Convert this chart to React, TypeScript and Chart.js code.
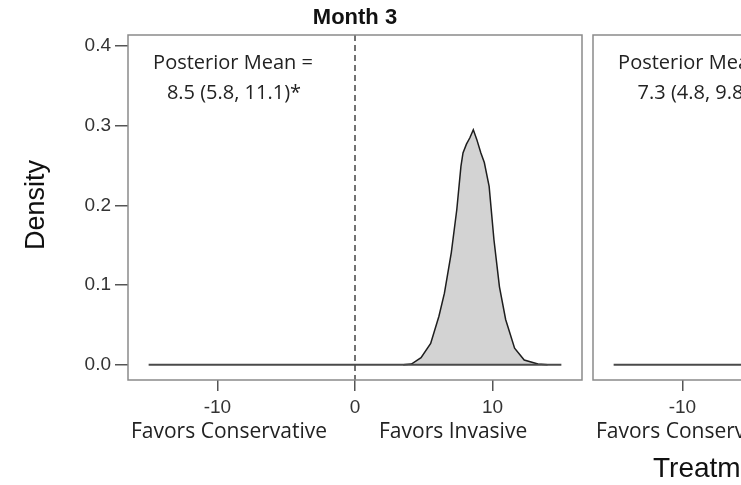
import React, { useEffect, useRef } from "react";
import { Chart, registerables } from "chart.js";

Chart.register(...registerables);

// ---------- data ----------
const xTickValues = [-10, 0, 10];
const yTickValues = [0, 0.1, 0.2, 0.3, 0.4];

const baselineX = [-15, 15];
const baselineY = [0, 0];

// Month 3 posterior density (left panel)
const month3X = [3.5, 4.1, 4.8, 5.5, 6.1, 6.5, 7.0, 7.4, 7.7, 7.85, 8.1, 8.35, 8.6, 8.85, 9.15, 9.4, 9.75, 10.1, 10.5, 10.95, 11.6, 12.3, 13.3, 14.0];
const month3Y = [0, 0.001, 0.009, 0.027, 0.061, 0.09, 0.141, 0.195, 0.249, 0.266, 0.277, 0.285, 0.295, 0.283, 0.266, 0.254, 0.224, 0.157, 0.098, 0.057, 0.021, 0.006, 0.001, 0];

// second panel posterior density (mostly cut off)
const panel2X = [2.0, 3.0, 4.0, 5.0, 6.0, 6.8, 7.3, 7.8, 8.6, 9.6, 10.6, 11.6, 12.6];
const panel2Y = [0, 0.003, 0.02, 0.08, 0.19, 0.29, 0.32, 0.29, 0.2, 0.09, 0.025, 0.004, 0];

const panelTitles = ["Month 3", ""];
const meanHeader = "Posterior Mean =";
const meanLabels = ["8.5 (5.8, 11.1)*", "7.3 (4.8, 9.8)*"];
const sideLabels = ["Favors Conservative", "Favors Invasive"];
const yAxisTitle = "Density";
const xAxisTitle = "Treatment Effect";

const X_MIN = -16.5;
const X_MAX = 16.5;
const Y_MIN = -0.019;
const Y_MAX = 0.414;

const TICK_FONT = { family: "'Liberation Sans', Arial, sans-serif", size: 19 };
const LABEL_FAMILY = "'Open Sans', Lato, sans-serif";

function pts(xs: number[], ys: number[]) {
  return xs.map((x, i) => ({ x, y: ys[i] }));
}

type PanelOpts = {
  xs: number[];
  ys: number[];
  showY: boolean;
  title: string;
  mean: string;
  drawYTitle: boolean;
  drawXTitle: boolean;
  xTitleOffset: number;
};

function makePanel(canvas: HTMLCanvasElement, o: PanelOpts) {
  const decor = {
    id: "decor",
    beforeDatasetsDraw(chart: any) {
      const { ctx, chartArea: a, scales } = chart;
      const x0 = scales.x.getPixelForValue(0);
      ctx.save();
      ctx.strokeStyle = "#444";
      ctx.lineWidth = 1.5;
      ctx.setLineDash([6, 4]);
      ctx.beginPath();
      ctx.moveTo(x0, a.top);
      ctx.lineTo(x0, a.bottom);
      ctx.stroke();
      ctx.restore();
    },
    afterDraw(chart: any) {
      const { ctx, chartArea: a, scales } = chart;
      const x0 = scales.x.getPixelForValue(0);
      ctx.save();
      // panel frame
      ctx.strokeStyle = "#8a8a8a";
      ctx.lineWidth = 1.5;
      ctx.strokeRect(a.left, a.top, a.right - a.left, a.bottom - a.top);

      // panel title
      if (o.title) {
        ctx.fillStyle = "#111";
        ctx.font = "bold 22px 'Liberation Sans', Arial, sans-serif";
        ctx.textAlign = "center";
        ctx.textBaseline = "middle";
        ctx.fillText(o.title, (a.left + a.right) / 2, 18);
      }

      // posterior mean annotation
      ctx.fillStyle = "#222";
      ctx.font = `20px ${LABEL_FAMILY}`;
      ctx.textAlign = "center";
      ctx.textBaseline = "middle";
      ctx.fillText(meanHeader, a.left + 105, a.top + 28);
      ctx.fillText(o.mean, a.left + 106, a.top + 58);

      // side labels
      ctx.font = `21px ${LABEL_FAMILY}`;
      ctx.textAlign = "right";
      ctx.fillText(sideLabels[0], x0 - 28, 432);
      ctx.textAlign = "left";
      ctx.fillText(sideLabels[1], x0 + 24, 432);

      // axis titles
      ctx.fillStyle = "#111";
      ctx.font = "27px 'Liberation Sans', Arial, sans-serif";
      if (o.drawYTitle) {
        ctx.save();
        ctx.translate(37, 205);
        ctx.rotate(-Math.PI / 2);
        ctx.textAlign = "center";
        ctx.textBaseline = "middle";
        ctx.fillText(yAxisTitle, 0, 0);
        ctx.restore();
      }
      if (o.drawXTitle) {
        ctx.textAlign = "left";
        ctx.textBaseline = "alphabetic";
        ctx.font = "28px 'Liberation Sans', Arial, sans-serif";
        ctx.fillText(xAxisTitle, o.xTitleOffset, 477);
      }
      ctx.restore();
    },
  };

  return new Chart(canvas, {
    type: "line",
    data: {
      datasets: [
        {
          data: pts(baselineX, baselineY),
          borderColor: "#4a4a4a",
          borderWidth: 2,
          pointRadius: 0,
          fill: false,
        },
        {
          data: pts(o.xs, o.ys),
          borderColor: "#1e1e1e",
          borderWidth: 1.5,
          backgroundColor: "#d3d3d3",
          pointRadius: 0,
          tension: 0,
          fill: "origin",
        },
      ],
    },
    options: {
      animation: false,
      responsive: false,
      maintainAspectRatio: false,
      devicePixelRatio: 1,
      layout: { padding: { top: 35, right: 18, bottom: 0, left: 0 } },
      plugins: {
        legend: { display: false },
        tooltip: { enabled: false },
        title: { display: false },
      },
      scales: {
        x: {
          type: "linear",
          min: X_MIN,
          max: X_MAX,
          afterBuildTicks: (s: any) => {
            s.ticks = xTickValues.map((v) => ({ value: v }));
          },
          afterFit: (s: any) => {
            s.height = 105;
          },
          ticks: {
            font: TICK_FONT,
            color: "#333",
            padding: 5,
            maxRotation: 0,
            callback: (v: any) => String(v),
          },
          grid: {
            drawOnChartArea: false,
            drawTicks: true,
            tickLength: 11,
            color: "#555",
            lineWidth: 1.5,
          },
          border: { display: false },
        },
        y: {
          type: "linear",
          display: o.showY,
          min: Y_MIN,
          max: Y_MAX,
          afterBuildTicks: (s: any) => {
            s.ticks = yTickValues.map((v) => ({ value: v }));
          },
          afterFit: (s: any) => {
            s.width = 128;
          },
          ticks: {
            font: TICK_FONT,
            color: "#333",
            padding: 4,
            callback: (v: any) => Number(v).toFixed(1),
          },
          grid: {
            drawOnChartArea: false,
            drawTicks: true,
            tickLength: 13,
            color: "#555",
            lineWidth: 1.5,
          },
          border: { display: false },
        },
      },
    },
    plugins: [decor],
  } as any);
}

export default function App() {
  const leftRef = useRef<HTMLCanvasElement>(null);
  const rightRef = useRef<HTMLCanvasElement>(null);

  useEffect(() => {
    const c1 = makePanel(leftRef.current!, {
      xs: month3X,
      ys: month3Y,
      showY: true,
      title: panelTitles[0],
      mean: meanLabels[0],
      drawYTitle: true,
      drawXTitle: false,
      xTitleOffset: 0,
    });
    const c2 = makePanel(rightRef.current!, {
      xs: panel2X,
      ys: panel2Y,
      showY: false,
      title: panelTitles[1],
      mean: meanLabels[1],
      drawYTitle: false,
      drawXTitle: true,
      xTitleOffset: 188,
    });
    return () => {
      c1.destroy();
      c2.destroy();
    };
  }, []);

  return (
    <div
      style={{
        position: "fixed",
        left: 0,
        top: 0,
        width: 741,
        height: 485,
        overflow: "hidden",
        background: "#fff",
      }}
    >
      <canvas
        ref={leftRef}
        width={600}
        height={485}
        style={{ position: "absolute", left: 0, top: 0, width: 600, height: 485 }}
      />
      <canvas
        ref={rightRef}
        width={600}
        height={485}
        style={{ position: "absolute", left: 465, top: 0, width: 600, height: 485 }}
      />
    </div>
  );
}
